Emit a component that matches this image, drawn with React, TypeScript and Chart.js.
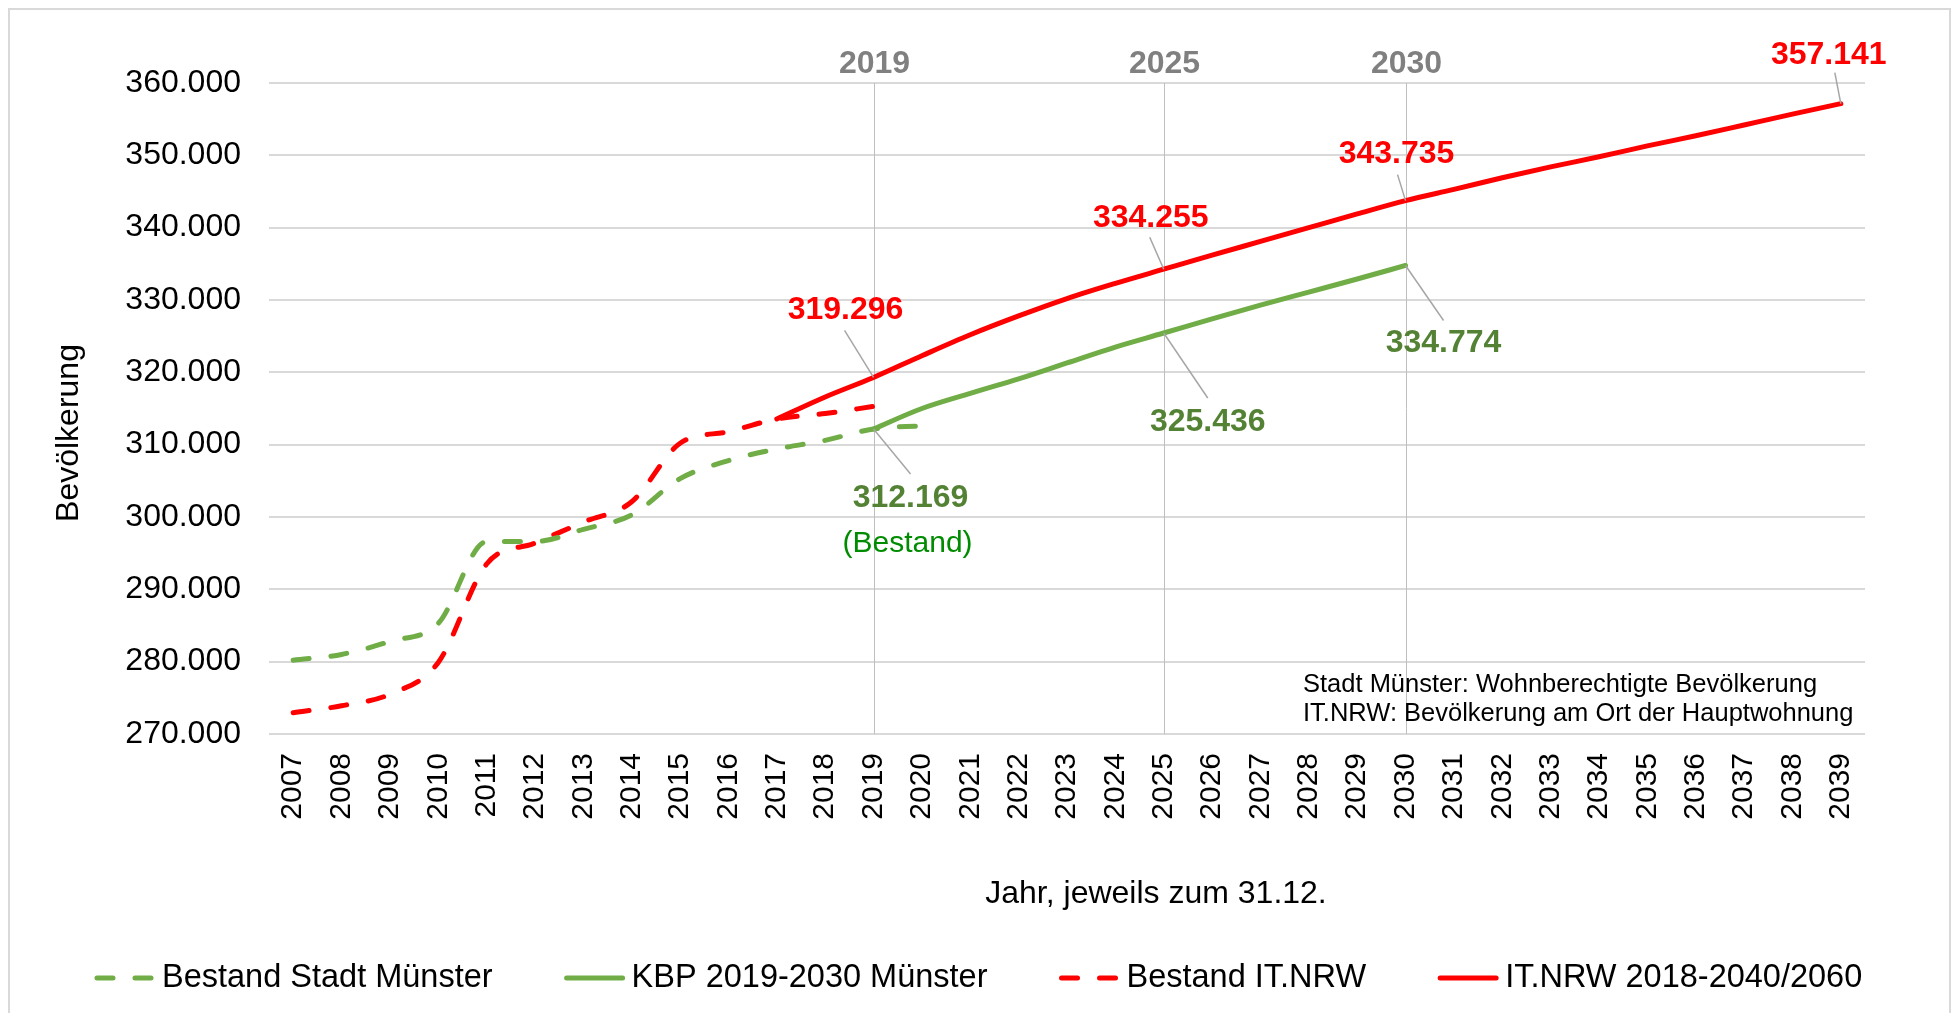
import React, { useEffect, useRef } from 'react';
import { Chart, registerables } from 'chart.js';

Chart.register(...registerables);

// ---------- data ----------
const years = [
  '2007', '2008', '2009', '2010', '2011', '2012', '2013', '2014', '2015', '2016', '2017',
  '2018', '2019', '2020', '2021', '2022', '2023', '2024', '2025', '2026', '2027', '2028',
  '2029', '2030', '2031', '2032', '2033', '2034', '2035', '2036', '2037', '2038', '2039',
];

const bestandStadt = [
  280200, 281000, 282800, 285300, 296600, 296600, 298300, 300300, 305300, 307800, 309400,
  310600, 312169, 312600, null, null, null, null, null, null, null, null,
  null, null, null, null, null, null, null, null, null, null, null,
];

const kbpMuenster = [
  null, null, null, null, null, null, null, null, null, null, null,
  null, 312169, 315000, 317100, 319100, 321300, 323500, 325436, 327400, 329300, 331100,
  332900, 334774, null, null, null, null, null, null, null, null, null,
];

const bestandNRW = [
  272950, 273900, 275500, 279900, 293500, 296400, 299300, 302100, 310200, 311800, 313559,
  314300, 315293, null, null, null, null, null, null, null, null, null,
  null, null, null, null, null, null, null, null, null, null, null,
];

const itnrwProjection = [
  null, null, null, null, null, null, null, null, null, null, 313559,
  316600, 319296, 322300, 325200, 327800, 330200, 332300, 334255, 336200, 338100, 340000,
  341900, 343735, 345300, 346900, 348400, 349800, 351300, 352700, 354200, 355700, 357141,
];

const seriesNames = [
  'Bestand Stadt Münster',
  'KBP 2019-2030 Münster',
  'Bestand IT.NRW',
  'IT.NRW 2018-2040/2060',
];

const yMin = 270000;
const yMax = 360000;
const yStep = 10000;

const markerYears = ['2019', '2025', '2030'];
const redLabelYears = ['2019', '2025', '2030', '2039'];
const greenLabelYears = ['2019', '2025', '2030'];
const bestandNoteText = '(Bestand)';
const noteLines = [
  'Stadt Münster: Wohnberechtigte Bevölkerung',
  'IT.NRW: Bevölkerung am Ort der Hauptwohnung',
];
const xTitle = 'Jahr, jeweils zum 31.12.';
const yTitle = 'Bevölkerung';

// ---------- styles ----------
const FONT = '"Liberation Sans", Arial, sans-serif';
const RED = '#FF0000';
const GREEN = '#70AD47';
const GREEN_TEXT = '#548235';
const BESTAND_TEXT = '#008C00';
const GRID = '#D9D9D9';
const LEADER = '#A6A6A6';
const DASH = [16, 22];

const redOffsets = [
  { lx: -28, ly: -67, sx: -29, sy: -47 },
  { lx: -13, ly: -51, sx: -14, sy: -32 },
  { lx: -9, ly: -46, sx: -8, sy: -26 },
  { lx: -12, ly: -49, sx: -6, sy: -31 },
];
const greenOffsets = [
  { lx: 37, ly: 69, sx: 37, sy: 45 },
  { lx: 44, ly: 89, sx: 44, sy: 65 },
  { lx: 38, ly: 78, sx: 38, sy: 55 },
];
const bestandOffset = { lx: 34, ly: 115 };

function fmt(v: number): string {
  return String(Math.round(v)).replace(/\B(?=(\d{3})+(?!\d))/g, '.');
}

const overlayPlugin = {
  id: 'overlay',
  beforeDatasetsDraw(chart: any) {
    const { ctx, chartArea, scales } = chart;
    const x = scales.x;
    ctx.save();
    markerYears.forEach((yr) => {
      const px = Math.round(x.getPixelForValue(years.indexOf(yr))) + 0.5;
      ctx.strokeStyle = '#BFBFBF';
      ctx.lineWidth = 1;
      ctx.beginPath();
      ctx.moveTo(px, chartArea.top);
      ctx.lineTo(px, chartArea.bottom);
      ctx.stroke();
      ctx.fillStyle = '#808080';
      ctx.font = `bold 32px ${FONT}`;
      ctx.textAlign = 'center';
      ctx.textBaseline = 'middle';
      ctx.fillText(yr, px, chartArea.top - 19);
    });
    ctx.restore();
  },
  afterDatasetsDraw(chart: any) {
    const { ctx, chartArea, scales } = chart;
    const x = scales.x;
    const y = scales.y;
    ctx.save();

    const drawLabel = (series: (number | null)[], yr: string, o: any, color: string) => {
      const i = years.indexOf(yr);
      const v = series[i] as number;
      const px = x.getPixelForValue(i);
      const py = y.getPixelForValue(v);
      ctx.strokeStyle = LEADER;
      ctx.lineWidth = 1.5;
      ctx.beginPath();
      ctx.moveTo(px + o.sx, py + o.sy);
      ctx.lineTo(px, py);
      ctx.stroke();
      ctx.fillStyle = color;
      ctx.font = `bold 32px ${FONT}`;
      ctx.textAlign = 'center';
      ctx.textBaseline = 'middle';
      ctx.fillText(fmt(v), px + o.lx, py + o.ly);
      return { px, py };
    };

    redLabelYears.forEach((yr, k) => drawLabel(itnrwProjection, yr, redOffsets[k], RED));
    greenLabelYears.forEach((yr, k) => {
      const p = drawLabel(kbpMuenster, yr, greenOffsets[k], GREEN_TEXT);
      if (k === 0) {
        ctx.fillStyle = BESTAND_TEXT;
        ctx.font = `30px ${FONT}`;
        ctx.fillText(bestandNoteText, p.px + bestandOffset.lx, p.py + bestandOffset.ly);
      }
    });

    // note box text
    ctx.fillStyle = '#000';
    ctx.font = `25.5px ${FONT}`;
    ctx.textAlign = 'left';
    ctx.textBaseline = 'middle';
    ctx.fillText(noteLines[0], chartArea.right - 562, chartArea.bottom - 49);
    ctx.fillText(noteLines[1], chartArea.right - 562, chartArea.bottom - 20);

    // axis titles
    ctx.font = `32px ${FONT}`;
    ctx.textAlign = 'center';
    ctx.fillText(xTitle, 1146, chartArea.bottom + 160);
    ctx.save();
    ctx.translate(59, 423);
    ctx.rotate(-Math.PI / 2);
    ctx.fillText(yTitle, 0, 0);
    ctx.restore();

    // legend
    let lx = 84;
    const ly = 968;
    chart.data.datasets.forEach((ds: any) => {
      ctx.save();
      ctx.strokeStyle = ds.borderColor;
      ctx.lineWidth = ds.borderWidth;
      ctx.lineCap = 'round';
      ctx.setLineDash(ds.borderDash || []);
      ctx.beginPath();
      ctx.moveTo(lx + 3, ly);
      ctx.lineTo(lx + 59, ly);
      ctx.stroke();
      ctx.restore();
      ctx.fillStyle = '#000';
      ctx.font = `32.5px ${FONT}`;
      ctx.textAlign = 'left';
      ctx.textBaseline = 'middle';
      const tx = lx + 62 + 6;
      ctx.fillText(ds.label, tx, ly);
      lx = tx + ctx.measureText(ds.label).width + 71;
    });

    ctx.restore();
  },
};

export default function App() {
  const ref = useRef<HTMLCanvasElement>(null);

  useEffect(() => {
    if (!ref.current) return;
    const common = {
      borderWidth: 5,
      pointRadius: 0,
      pointHoverRadius: 0,
      cubicInterpolationMode: 'monotone',
      fill: false,
      spanGaps: false,
      borderCapStyle: 'round',
      borderJoinStyle: 'round',
    };
    const chart = new Chart(ref.current, {
      type: 'line',
      data: {
        labels: years,
        datasets: [
          { ...common, label: seriesNames[0], data: bestandStadt, borderColor: GREEN, backgroundColor: GREEN, borderDash: DASH },
          { ...common, label: seriesNames[1], data: kbpMuenster, borderColor: GREEN, backgroundColor: GREEN },
          { ...common, label: seriesNames[2], data: bestandNRW, borderColor: RED, backgroundColor: RED, borderDash: DASH },
          { ...common, label: seriesNames[3], data: itnrwProjection, borderColor: RED, backgroundColor: RED },
        ] as any,
      },
      options: {
        animation: false,
        responsive: false,
        events: [],
        layout: { padding: { top: 73, right: 84, left: 0, bottom: 0 } },
        plugins: {
          legend: { display: false },
          tooltip: { enabled: false },
          title: { display: false },
        },
        scales: {
          x: {
            type: 'category',
            offset: true,
            grid: { display: false, drawTicks: false },
            border: { display: false },
            ticks: {
              autoSkip: false,
              minRotation: 90,
              maxRotation: 90,
              padding: 19,
              color: '#000',
              font: { family: FONT, size: 30 },
            },
            afterFit: (s: any) => { s.height = 279; },
          },
          y: {
            min: yMin,
            max: yMax,
            grid: { color: GRID, lineWidth: 2, drawTicks: false },
            border: { display: false },
            ticks: {
              stepSize: yStep,
              padding: 28,
              color: '#000',
              font: { family: FONT, size: 32 },
              callback: (v: any) => fmt(Number(v)),
            },
            afterFit: (s: any) => { s.width = 259; },
          },
        },
      } as any,
      plugins: [overlayPlugin],
    });
    return () => chart.destroy();
  }, []);

  return (
    <div
      style={{
        width: 1943,
        height: 1005,
        border: '2px solid #D9D9D9',
        borderBottom: 'none',
        boxSizing: 'border-box',
        background: '#fff',
      }}
    >
      <canvas ref={ref} width={1939} height={1003} style={{ display: 'block' }} />
    </div>
  );
}
